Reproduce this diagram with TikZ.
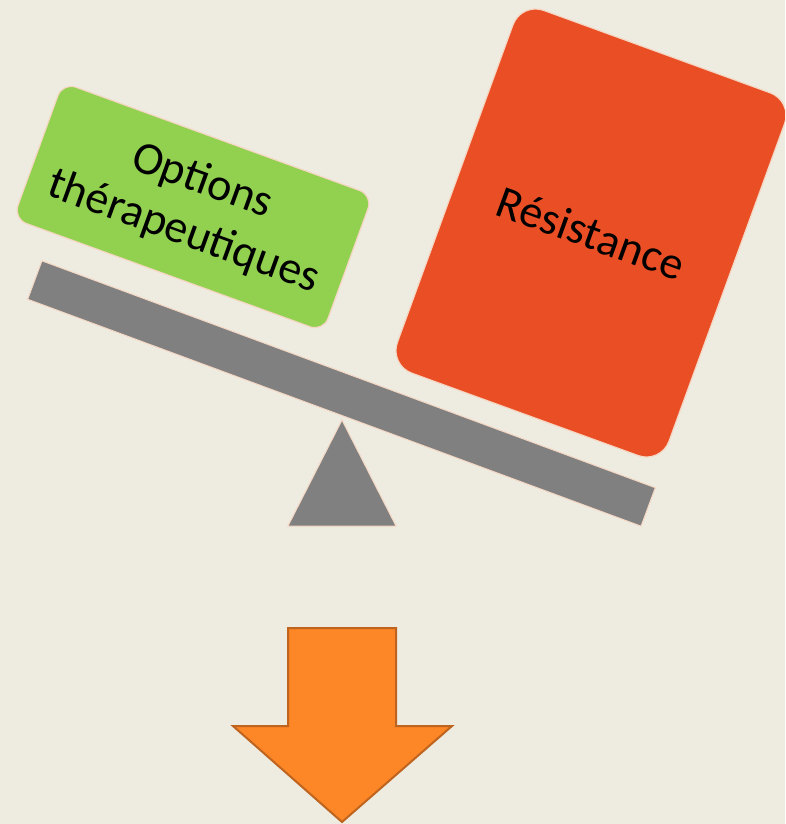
\documentclass[tikz,border=0pt]{standalone}
\usepackage{fontspec}
\setmainfont{Carlito}
\definecolor{bg}{RGB}{238,235,225}
\definecolor{beamgray}{RGB}{128,128,128}
\definecolor{optgreen}{RGB}{146,208,80}
\definecolor{resred}{RGB}{233,78,36}
\definecolor{arrfill}{RGB}{253,134,38}
\definecolor{arrline}{RGB}{190,100,30}
\definecolor{rim}{RGB}{245,215,195}
\begin{document}
\begin{tikzpicture}[x=1pt,y=-1pt,
      every node/.style={inner sep=0pt,font=\fontsize{46}{54}\selectfont},
      card/.style={draw=rim,line width=1.2pt,rotate=-20,align=center}]
      \fill[bg](0,0)rectangle(785,824);
      \useasboundingbox(0,0)rectangle(785,824);
      \begin{scope}
        \clip(0,0)rectangle(785,824);
        \node[card,fill=resred,minimum width=289pt,minimum height=386pt,
          rounded corners=24pt](res)at(591,233){R\'esistance};
      \end{scope}
      \node[card,fill=optgreen,minimum width=330pt,minimum height=145pt,
        rounded corners=14pt](opt)at(193,207){Options\\th\'erapeutiques};
      \node[draw=rim,line width=1pt,fill=beamgray,rotate=-20.3,
        minimum width=654pt,minimum height=41pt](beam)at(341.5,393.5){};
      \draw[draw=rim,line width=1pt,fill=beamgray](342,420)--(396,526)--(288,526)--cycle;
      \draw[draw=arrline,line width=2pt,fill=arrfill,line join=miter]
        (288,628)--(396,628)--(396,726)--(452,726)--(342,822)--(233,726)--(288,726)--cycle;
   \end{tikzpicture}
\end{document}
